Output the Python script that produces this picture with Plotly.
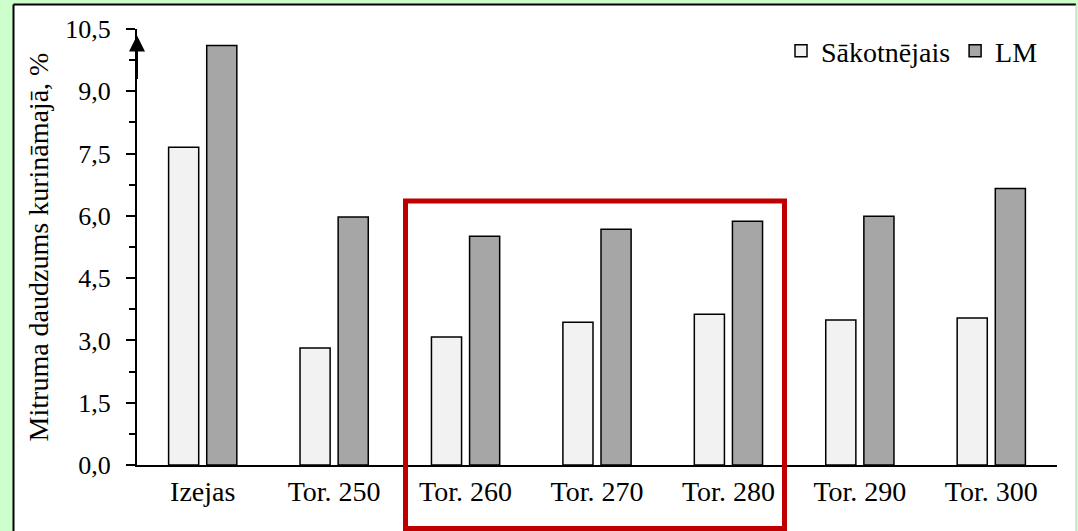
import plotly.graph_objects as go

categories = ["Izejas", "Tor. 250", "Tor. 260", "Tor. 270", "Tor. 280", "Tor. 290", "Tor. 300"]
sakotnejais = [7.65, 2.82, 3.08, 3.44, 3.63, 3.49, 3.54]
lm = [10.1, 5.97, 5.51, 5.68, 5.87, 5.99, 6.66]
y_ticks = [0, 1.5, 3.0, 4.5, 6.0, 7.5, 9.0, 10.5]

FONT = "Liberation Serif, Times New Roman, serif"
W, H = 1078, 531
L, R, T, B = 137, 21, 29, 66
pw, ph = W - L - R, H - T - B

def px(x):
    return (x - L) / pw

def py(y):
    return (H - B - y) / ph

fig = go.Figure()
fig.add_bar(name="Sākotnējais", x=categories, y=sakotnejais,
            marker=dict(color="#f2f2f2", line=dict(color="black", width=1.5)))
fig.add_bar(name="LM", x=categories, y=lm,
            marker=dict(color="#a6a6a6", line=dict(color="black", width=1.5)))

shapes = [
    # white panel
    dict(type="rect", xref="paper", yref="paper", layer="below",
         x0=px(13.5), x1=px(1076), y0=py(560), y1=py(4.5),
         fillcolor="white", line=dict(width=0)),
    dict(type="line", xref="paper", yref="paper", layer="below",
         x0=px(13.5), x1=px(13.5), y0=py(560), y1=py(4.5),
         line=dict(color="black", width=2)),
    dict(type="line", xref="paper", yref="paper", layer="below",
         x0=px(13.5), x1=px(1076), y0=py(4.5), y1=py(4.5),
         line=dict(color="black", width=2)),
    dict(type="line", xref="paper", yref="paper", layer="below",
         x0=px(1076), x1=px(1076), y0=py(560), y1=py(4.5),
         line=dict(color="#c8c8c8", width=1)),
    # red highlight box
    dict(type="rect", xref="paper", yref="paper",
         x0=px(405.5), x1=px(784.5), y0=py(528.5), y1=py(201),
         line=dict(color="#c00000", width=5), fillcolor="rgba(0,0,0,0)"),
]

fig.update_layout(
    width=W, height=H,
    margin=dict(l=L, r=R, t=T, b=B),
    paper_bgcolor="#ccffcc",
    plot_bgcolor="white",
    separators=", ",
    barmode="group",
    bargap=0.42,
    bargroupgap=0.21,
    font=dict(family=FONT, size=26, color="black"),
    shapes=shapes,
    showlegend=True,
    legend=dict(orientation="h", x=px(1043), xanchor="right", y=py(51), yanchor="middle",
                font=dict(family=FONT, size=28), bgcolor="rgba(0,0,0,0)",
                itemwidth=30, traceorder="normal"),
    xaxis=dict(showline=True, linecolor="black", linewidth=2, ticks="",
               tickfont=dict(size=28), showgrid=False),
    yaxis=dict(range=[0, 10.5], tickvals=y_ticks, tickformat=".1f",
               showline=True, linecolor="black", linewidth=2,
               ticks="outside", ticklen=9, tickwidth=2, tickcolor="black",
               minor=dict(dtick=0.75, ticks="outside", ticklen=6, tickwidth=2, tickcolor="black"),
               showgrid=False, zeroline=False,
               ticklabelstandoff=10,
               tickfont=dict(size=26),
               title=dict(text="Mitruma daudzums kurināmajā, %", font=dict(size=28), standoff=8)),
    annotations=[
        dict(xref="paper", yref="paper", x=0, y=0.985, ax=0, ay=45,
             showarrow=True, arrowhead=2, arrowsize=1.6,
             arrowwidth=2, arrowcolor="black", text=""),
    ],
)

fig.write_html("out.html")
